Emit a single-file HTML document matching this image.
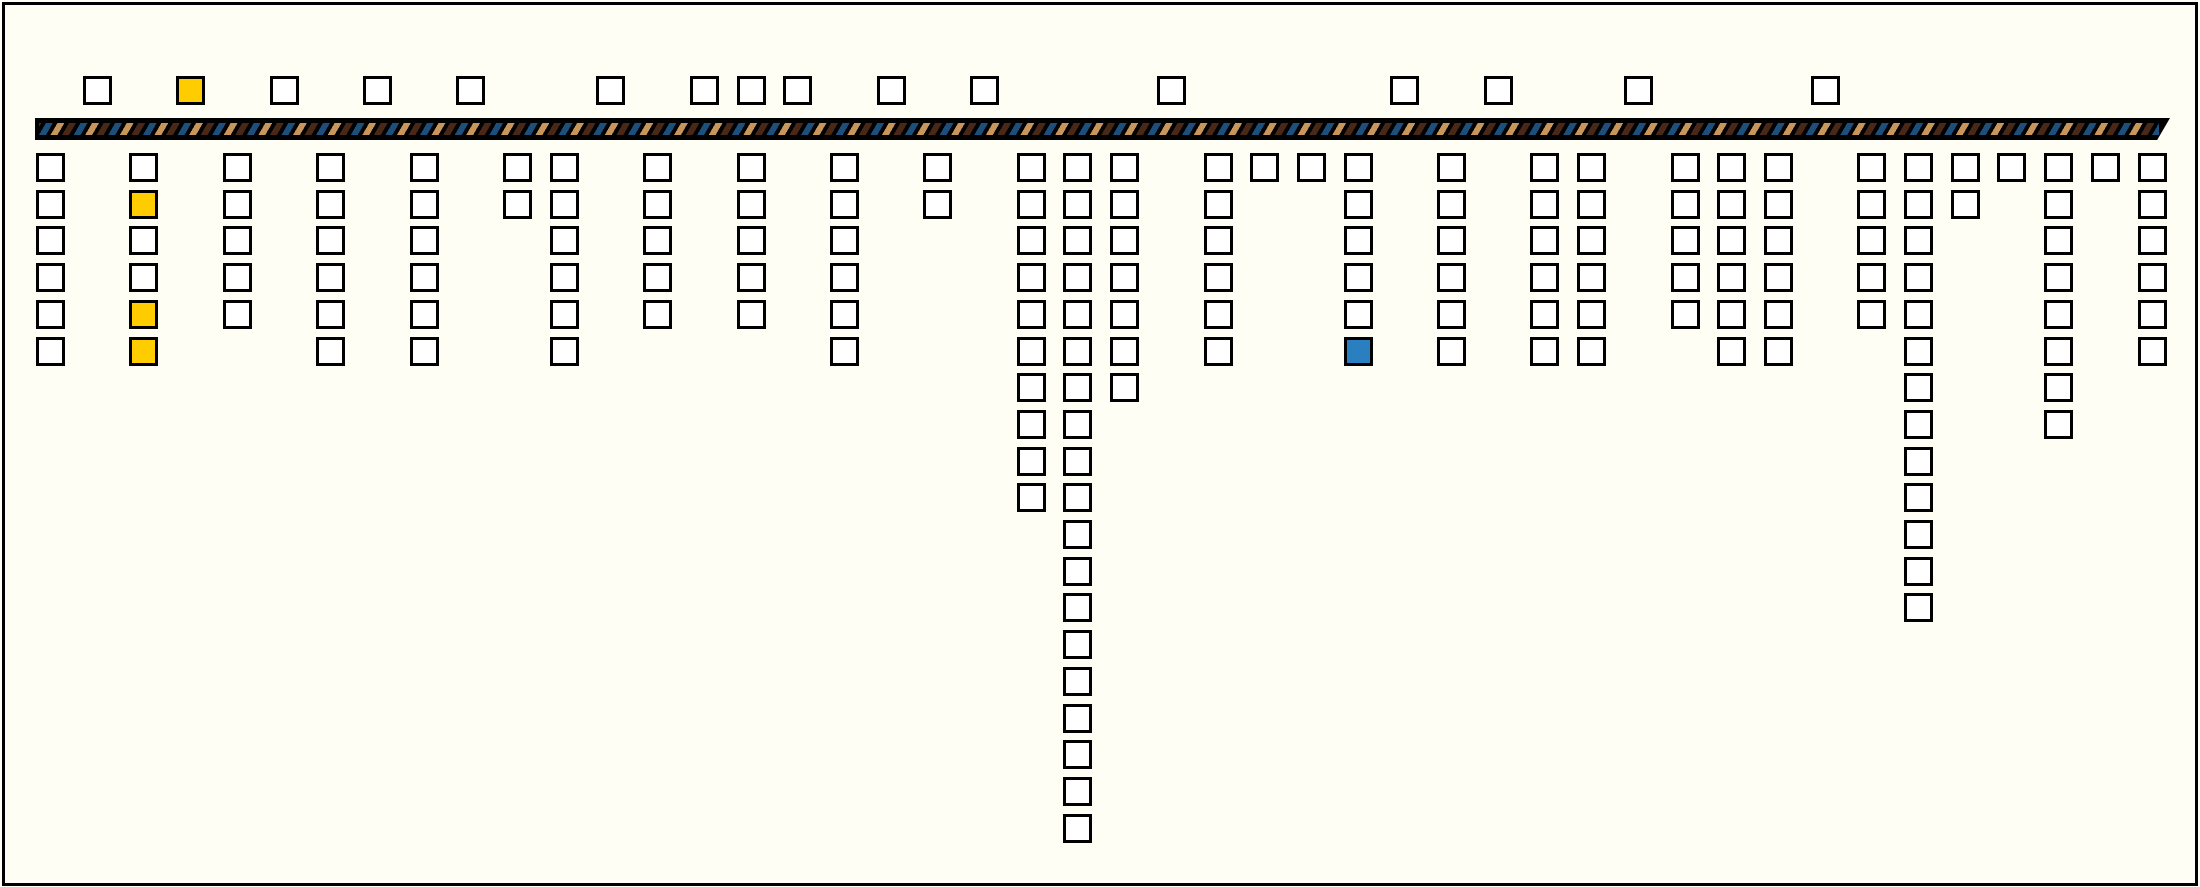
<!DOCTYPE html>
<html><head><meta charset="utf-8"><style>
html,body{margin:0;padding:0}
body{width:2200px;height:887px;position:relative;background:#fffff5;overflow:hidden}
#frame{position:absolute;left:2px;top:2px;width:2190px;height:878px;border:3px solid #000;background:#fefef4}
#bar{position:absolute;left:35px;top:118px;width:2135px;height:22px;background:#000;clip-path:polygon(0 0,100% 0,99.4% 100%,0 100%)}
#stripes{position:absolute;left:4px;top:5px;width:2120px;height:12px;
background:repeating-linear-gradient(-60deg,#1d4f7c 0 6px,transparent 6px 10px,#4a2818 10px 16px,transparent 16px 20px,#c8955a 20px 26px,transparent 26px 30px)}
.b{position:absolute;width:23px;height:23px;border:3px solid #000;background:#fff;box-sizing:content-box}
.y{background:#ffcc00}.u{background:#2a7fc0}
</style></head><body>
<div id="frame"></div>
<div id="bar"><div id="stripes"></div></div>
<div id="c"></div>
<script>
(function(){
var c=document.getElementById('c'),h='';
function X(i){return 36+i*46.7}
function Y(r){return 153+r*36.7}
var tops=[1,3,5,7,9,12,14,15,16,18,20,24,29,31,34,38];
tops.forEach(function(i){h+='<div class="b'+(i==3?' y':'')+'" style="left:'+X(i)+'px;top:76px"></div>';});
var cols=[[0,6],[2,6],[4,5],[6,6],[8,6],[10,2],[11,6],[13,5],[15,5],[17,6],[19,2],[21,10],[22,19],[23,7],[25,6],[26,1],[27,1],[28,6],[30,6],[32,6],[33,6],[35,5],[36,6],[37,6],[39,5],[40,13],[41,2],[42,1],[43,8],[44,1],[45,6]];
cols.forEach(function(p){for(var r=0;r<p[1];r++){var cl='';
if(p[0]==2&&(r==1||r==4||r==5))cl=' y';
if(p[0]==28&&r==5)cl=' u';
h+='<div class="b'+cl+'" style="left:'+X(p[0])+'px;top:'+Y(r)+'px"></div>';}});
c.innerHTML=h;
})();
</script>
</body></html>
